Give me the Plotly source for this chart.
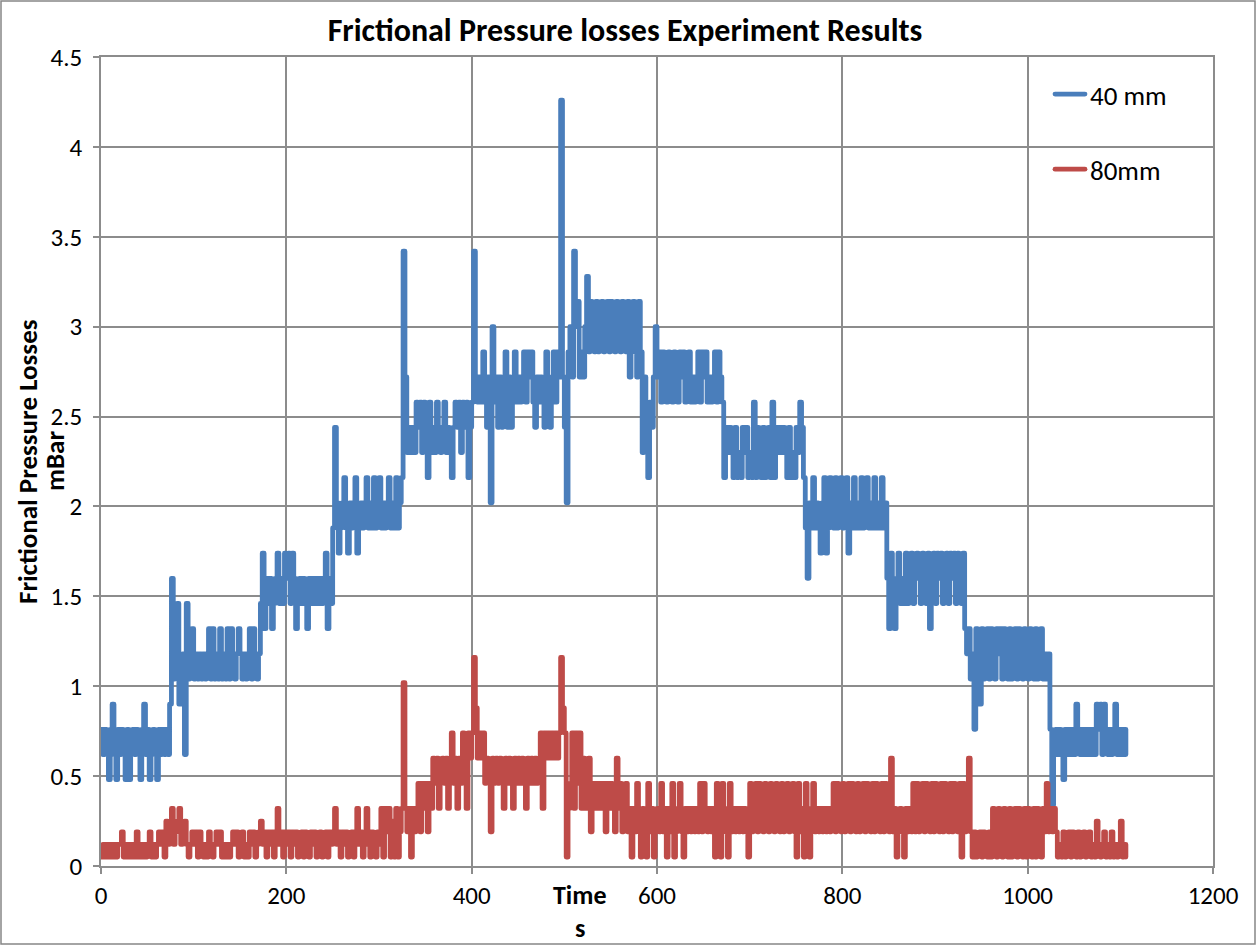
import plotly.graph_objects as go

# ---------------- data (2 s sampling) ----------------
loss_40mm = [
    .76, .62, .76, .62, .48, .76, .90, .62, .48, .76,
    .62, .76, .62, .48, .76, .48, .62, .76, .62, .76,
    .62, .48, .76, .90, .62, .76, .48, .62, .76, .62,
    .48, .76, .62, .76, .62, .76, .62, .90, 1.60, 1.04,
    1.18, 1.46, .90, 1.04, 1.18, .62, 1.46, 1.04, 1.18, 1.32,
    1.04, 1.18, 1.04, 1.18, 1.04, 1.18, 1.04, 1.18, 1.32, 1.04,
    1.32, 1.04, 1.18, 1.04, 1.32, 1.04, 1.18, 1.04, 1.32, 1.04,
    1.32, 1.18, 1.04, 1.18, 1.32, 1.18, 1.04, 1.18, 1.04, 1.18,
    1.32, 1.04, 1.32, 1.18, 1.04, 1.18, 1.46, 1.74, 1.32, 1.60,
    1.46, 1.60, 1.32, 1.46, 1.60, 1.74, 1.46, 1.60, 1.46, 1.74,
    1.60, 1.74, 1.46, 1.74, 1.60, 1.32, 1.46, 1.60, 1.46, 1.60,
    1.46, 1.32, 1.60, 1.46, 1.60, 1.46, 1.60, 1.46, 1.60, 1.46,
    1.60, 1.74, 1.32, 1.60, 1.46, 1.88, 2.44, 2.02, 1.74, 1.88,
    2.02, 2.16, 1.88, 1.74, 2.02, 1.88, 2.02, 2.16, 1.74, 1.88,
    2.02, 1.88, 2.02, 2.16, 1.88, 2.02, 1.88, 2.16, 1.88, 2.02,
    2.16, 1.88, 2.02, 1.88, 2.02, 2.16, 1.88, 2.02, 1.88, 2.16,
    1.88, 2.02, 2.16, 3.42, 2.72, 2.30, 2.44, 2.30, 2.44, 2.30,
    2.58, 2.44, 2.58, 2.30, 2.58, 2.44, 2.16, 2.58, 2.30, 2.44,
    2.30, 2.58, 2.44, 2.30, 2.44, 2.58, 2.30, 2.44, 2.30, 2.16,
    2.44, 2.58, 2.44, 2.58, 2.30, 2.58, 2.44, 2.58, 2.16, 2.44,
    2.58, 3.42, 2.72, 2.58, 2.72, 2.58, 2.86, 2.72, 2.44, 2.72,
    2.02, 3.00, 2.58, 2.72, 2.44, 2.72, 2.44, 2.58, 2.86, 2.44,
    2.72, 2.44, 2.58, 2.86, 2.58, 2.72, 2.58, 2.72, 2.86, 2.58,
    2.86, 2.72, 2.86, 2.58, 2.44, 2.72, 2.58, 2.72, 2.58, 2.44,
    2.86, 2.58, 2.44, 2.72, 2.86, 2.58, 2.86, 2.72, 4.26, 2.72,
    2.44, 2.02, 2.86, 3.00, 2.72, 3.42, 3.00, 3.14, 2.72, 2.86,
    2.72, 3.00, 3.28, 2.86, 3.14, 3.00, 2.86, 3.14, 2.86, 3.00,
    3.14, 2.86, 3.00, 3.14, 2.86, 3.14, 3.00, 2.86, 3.14, 3.00,
    2.86, 3.14, 3.00, 2.86, 3.14, 2.72, 3.00, 3.14, 2.86, 2.72,
    3.14, 2.86, 2.30, 2.72, 2.58, 2.16, 2.58, 2.44, 2.72, 3.00,
    2.72, 2.86, 2.58, 2.86, 2.72, 2.58, 2.86, 2.72, 2.58, 2.86,
    2.72, 2.58, 2.86, 2.72, 2.86, 2.58, 2.72, 2.86, 2.58, 2.72,
    2.58, 2.72, 2.86, 2.58, 2.86, 2.72, 2.86, 2.58, 2.72, 2.58,
    2.72, 2.86, 2.58, 2.86, 2.72, 2.58, 2.16, 2.44, 2.30, 2.44,
    2.30, 2.16, 2.44, 2.16, 2.30, 2.16, 2.44, 2.30, 2.44, 2.16,
    2.30, 2.16, 2.58, 2.16, 2.44, 2.30, 2.16, 2.44, 2.16, 2.30,
    2.44, 2.16, 2.58, 2.16, 2.44, 2.30, 2.44, 2.30, 2.44, 2.30,
    2.16, 2.44, 2.16, 2.30, 2.16, 2.44, 2.30, 2.58, 2.44, 2.16,
    1.88, 1.60, 2.02, 1.88, 2.16, 1.88, 2.02, 1.88, 1.74, 2.02,
    2.16, 1.74, 1.88, 2.16, 2.02, 1.88, 2.16, 1.88, 2.02, 2.16,
    1.88, 2.02, 2.16, 1.74, 2.02, 1.88, 2.16, 1.88, 2.02, 1.88,
    2.16, 1.88, 2.02, 2.16, 1.88, 2.02, 1.88, 2.16, 1.88, 2.02,
    1.88, 2.16, 1.88, 2.02, 1.60, 1.32, 1.74, 1.46, 1.32, 1.60,
    1.74, 1.46, 1.60, 1.46, 1.74, 1.46, 1.60, 1.74, 1.46, 1.60,
    1.74, 1.60, 1.46, 1.74, 1.60, 1.46, 1.74, 1.32, 1.60, 1.74,
    1.46, 1.74, 1.60, 1.74, 1.46, 1.60, 1.74, 1.46, 1.74, 1.60,
    1.74, 1.46, 1.74, 1.60, 1.46, 1.74, 1.32, 1.18, 1.32, 1.04,
    1.18, .76, 1.32, 1.04, .90, 1.32, 1.04, 1.18, 1.32, 1.04,
    1.32, 1.18, 1.04, 1.32, 1.18, 1.32, 1.04, 1.32, 1.18, 1.04,
    1.32, 1.04, 1.18, 1.32, 1.04, 1.32, 1.18, 1.04, 1.32, 1.18,
    1.04, 1.32, 1.18, 1.04, 1.32, 1.04, 1.18, 1.32, 1.04, 1.18,
    1.04, 1.18, .76, .34, .62, .76, .62, .76, .62, .48,
    .76, .62, .76, .62, .76, .62, .90, .76, .62, .76,
    .62, .76, .62, .76, .62, .76, .62, .90, .76, .90,
    .62, .90, .76, .62, .76, .62, .76, .90, .62, .76,
    .62, .76, .62, .76,
]

loss_80mm = [
    .05, .12, .05, .12, .05, .12, .05, .12, .05, .12,
    .12, .19, .05, .12, .05, .12, .05, .12, .05, .19,
    .05, .12, .05, .12, .05, .12, .19, .05, .12, .05,
    .12, .19, .12, .19, .05, .25, .12, .19, .32, .12,
    .19, .25, .32, .12, .19, .25, .12, .05, .12, .19,
    .12, .19, .05, .19, .12, .05, .12, .05, .19, .12,
    .05, .12, .19, .12, .19, .05, .12, .05, .12, .05,
    .12, .19, .12, .19, .05, .12, .19, .05, .12, .05,
    .19, .12, .19, .05, .12, .19, .25, .12, .19, .05,
    .19, .12, .19, .05, .19, .32, .12, .19, .05, .19,
    .12, .19, .05, .19, .12, .19, .05, .12, .19, .05,
    .19, .12, .05, .19, .12, .19, .05, .12, .19, .05,
    .12, .19, .05, .19, .12, .19, .32, .12, .19, .05,
    .19, .12, .19, .05, .12, .19, .05, .19, .32, .12,
    .19, .05, .12, .32, .19, .05, .19, .12, .05, .19,
    .12, .32, .05, .32, .19, .32, .05, .25, .05, .32,
    .05, .19, .32, 1.02, .32, .19, .32, .05, .32, .19,
    .32, .46, .19, .46, .32, .46, .19, .46, .32, .60,
    .46, .60, .32, .46, .60, .46, .60, .32, .60, .74,
    .46, .60, .32, .60, .46, .74, .60, .32, .74, .60,
    .74, 1.16, .88, .60, .74, .60, .74, .46, .60, .46,
    .19, .60, .46, .60, .46, .60, .46, .32, .60, .46,
    .60, .46, .32, .60, .46, .60, .46, .60, .46, .32,
    .60, .46, .60, .46, .60, .46, .60, .74, .32, .74,
    .60, .74, .60, .74, .60, .74, .60, .74, 1.16, .88,
    .74, .05, .32, .46, .74, .32, .74, .46, .74, .32,
    .60, .32, .46, .60, .19, .46, .32, .46, .32, .46,
    .32, .46, .19, .46, .32, .46, .32, .19, .60, .32,
    .46, .19, .32, .46, .19, .32, .05, .32, .19, .46,
    .19, .05, .32, .19, .05, .46, .19, .32, .05, .19,
    .32, .19, .46, .19, .32, .05, .32, .19, .46, .05,
    .19, .32, .46, .19, .05, .32, .19, .32, .19, .32,
    .19, .32, .19, .46, .19, .46, .32, .19, .32, .19,
    .32, .05, .46, .19, .05, .46, .32, .19, .05, .46,
    .19, .32, .19, .32, .19, .32, .19, .32, .19, .05,
    .46, .19, .32, .46, .19, .46, .32, .19, .46, .32,
    .19, .46, .32, .19, .46, .32, .19, .46, .19, .32,
    .46, .19, .32, .46, .19, .05, .46, .19, .32, .05,
    .46, .19, .05, .32, .46, .19, .32, .19, .32, .19,
    .32, .19, .32, .19, .32, .46, .19, .46, .32, .19,
    .46, .19, .32, .46, .19, .46, .32, .19, .46, .19,
    .32, .46, .19, .46, .32, .19, .46, .19, .46, .32,
    .19, .46, .19, .46, .32, .19, .60, .19, .32, .05,
    .19, .32, .19, .05, .32, .19, .32, .19, .46, .19,
    .46, .19, .32, .46, .19, .46, .32, .19, .46, .19,
    .46, .32, .19, .46, .19, .46, .32, .19, .46, .19,
    .46, .32, .19, .46, .05, .46, .19, .32, .60, .19,
    .05, .19, .05, .12, .19, .05, .19, .12, .05, .19,
    .05, .32, .19, .05, .32, .12, .05, .32, .19, .05,
    .32, .05, .19, .32, .05, .32, .19, .05, .32, .05,
    .32, .19, .05, .32, .05, .32, .19, .05, .32, .19,
    .46, .19, .32, .19, .32, .19, .05, .12, .05, .19,
    .05, .12, .19, .05, .19, .12, .05, .19, .05, .12,
    .19, .05, .12, .19, .05, .12, .05, .25, .12, .05,
    .12, .19, .05, .12, .05, .19, .05, .12, .05, .12,
    .25, .05, .12, .05,
]

sample_step_s = 2
time_40mm = [i * sample_step_s for i in range(len(loss_40mm))]
time_80mm = [i * sample_step_s for i in range(len(loss_80mm))]

series_names = ["40 mm", "80mm"]
series_colors = ["#4A7EBB", "#BE4B48"]

x_tick_vals = [0, 200, 400, 600, 800, 1000, 1200]
y_tick_vals = [0, 0.5, 1, 1.5, 2, 2.5, 3, 3.5, 4, 4.5]
y_tick_text = ["0", "0.5", "1", "1.5", "2", "2.5", "3", "3.5", "4", "4.5"]

chart_title = "Frictional Pressure losses Experiment Results"
y_title_lines = ["Frictional Pressure Losses", "mBar"]
x_title_lines = ["Time", "s"]

# ---------------- figure ----------------
FONT = "Carlito, Lato, 'Open Sans', sans-serif"
GRID = "#8C8C8C"
W, H = 1256, 945
ML, MR, MT, MB = 101, 43, 57, 79
PW, PH = W - ML - MR, H - MT - MB


def px_to_paper(px, py):
    return (px - ML) / PW, (H - MB - py) / PH


fig = go.Figure()
fig.add_trace(go.Scatter(
    x=time_40mm, y=loss_40mm, mode="lines", name=series_names[0],
    legendgroup="a", line=dict(color=series_colors[0], width=4.8, shape="hv"),
))
fig.add_trace(go.Scatter(
    x=time_80mm, y=loss_80mm, mode="lines", name=series_names[1],
    legendgroup="b", line=dict(color=series_colors[1], width=4.8, shape="hv"),
))

axis_common = dict(
    showgrid=True, gridcolor=GRID, gridwidth=1.5,
    showline=True, linecolor=GRID, linewidth=1.5, mirror=True,
    ticks="outside", ticklen=6, tickcolor=GRID, tickwidth=1.5,
    zeroline=False, tickfont=dict(family=FONT, size=25, color="black"),
)
fig.update_xaxes(range=[0, 1200], tickvals=x_tick_vals, **axis_common)
fig.update_yaxes(range=[0, 4.5], tickvals=y_tick_vals, ticktext=y_tick_text,
                 ticklabelstandoff=6, **axis_common)

annotations = []
for text, (px, py) in zip(y_title_lines, [(27, 462), (54, 461)]):
    x, y = px_to_paper(px, py)
    annotations.append(dict(text=text, x=x, y=y, xref="paper", yref="paper",
                            showarrow=False, textangle=-90,
                            xanchor="center", yanchor="middle",
                            font=dict(family=FONT, size=27, color="black", weight="bold")))
for text, (px, py) in zip(x_title_lines, [(580, 895), (580, 928)]):
    x, y = px_to_paper(px, py)
    annotations.append(dict(text=text, x=x, y=y, xref="paper", yref="paper",
                            showarrow=False, xanchor="center", yanchor="middle",
                            font=dict(family=FONT, size=26, color="black", weight="bold")))

bx0, by0 = px_to_paper(1, 944)
bx1, by1 = px_to_paper(1255, 1)
lx, ly = px_to_paper(1050, 70)

fig.update_layout(
    width=W, height=H,
    margin=dict(l=ML, r=MR, t=MT, b=MB),
    paper_bgcolor="white", plot_bgcolor="white",
    font=dict(family=FONT, color="black"),
    title=dict(text=chart_title, x=625 / W, xref="container", xanchor="center",
               y=1 - 30 / H, yref="container", yanchor="middle",
               font=dict(family=FONT, size=32, color="black", weight="bold")),
    legend=dict(x=lx, y=ly, xanchor="left", yanchor="top",
                bgcolor="rgba(0,0,0,0)", font=dict(family=FONT, size=27, color="black"),
                tracegroupgap=37, traceorder="grouped"),
    annotations=annotations,
    shapes=[dict(type="rect", xref="paper", yref="paper",
                 x0=bx0, x1=bx1, y0=by0, y1=by1,
                 line=dict(color="#868686", width=1.5), layer="above")],
    showlegend=True,
)

post = ("document.body.style.margin='0';document.body.style.padding='0';"
        "document.querySelectorAll('.scatterlayer .js-line, .legendlines path')"
        ".forEach(function(p){p.style.strokeLinejoin='round';p.style.strokeLinecap='round';});")
fig.write_html("out.html", post_script=post, config={"displayModeBar": False})
